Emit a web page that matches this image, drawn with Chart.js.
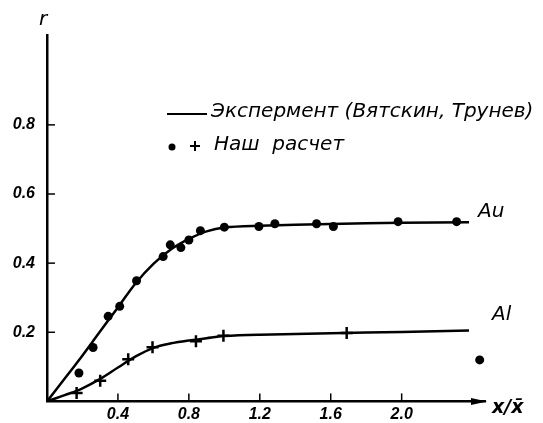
<!DOCTYPE html>
<html>
<head>
<meta charset="utf-8">
<script src="https://cdn.jsdelivr.net/npm/chart.js@4/dist/chart.umd.min.js"></script>
<style>
  html, body { margin: 0; padding: 0; background: #fff; }
  #chart { display: block; }
</style>
</head>
<body>
<canvas id="chart" width="543" height="423"></canvas>
<script>
// experiment curves (solid lines)
const curveX = [0, 0.1, 0.2, 0.3, 0.4, 0.5, 0.6, 0.7, 0.8, 0.9, 1.0, 1.2, 1.6, 2.0, 2.38];
const auCurve = [0, 0.066, 0.133, 0.203, 0.272, 0.342, 0.398, 0.44, 0.47, 0.492, 0.503, 0.508, 0.513, 0.517, 0.518];
const alCurve = [0, 0.018, 0.038, 0.065, 0.098, 0.13, 0.155, 0.168, 0.176, 0.183, 0.189, 0.193, 0.197, 0.201, 0.205];

// our calculation: dots (Au) and crosses (Al)
const auX = [0.18, 0.26, 0.345, 0.41, 0.505, 0.655, 0.695, 0.755, 0.80, 0.865, 1.00, 1.195, 1.285, 1.52, 1.615, 1.98, 2.31, 2.44];
const auY = [0.082, 0.156, 0.246, 0.275, 0.349, 0.419, 0.453, 0.445, 0.467, 0.494, 0.504, 0.506, 0.514, 0.514, 0.506, 0.52, 0.52, 0.12];
const alX = [0.167, 0.30, 0.458, 0.595, 0.84, 0.995, 1.69];
const alY = [0.024, 0.060, 0.122, 0.157, 0.174, 0.19, 0.198];

const xTicks = [0.4, 0.8, 1.2, 1.6, 2.0];
const yTicks = [0.2, 0.4, 0.6, 0.8];

const legendLine = "Экспермент (Вятскин, Трунев)";
const legendCalc = "Наш  расчет";
const yTitle = "r";
const xTitle = "x/x\u0304";

const toPoints = (xs, ys) => xs.map((x, i) => ({ x: x, y: ys[i] }));

const textFont = 'italic 20px "DejaVu Sans"';
const tickFont = { family: '"Liberation Sans"', size: 16, style: 'italic', weight: 'bold' };

// hand drawn bits: inward ticks, arrow, legend, labels
const decorations = {
    id: 'decorations',
    afterDraw(chart) {
        const ctx = chart.ctx;
        const xs = chart.scales.x, ys = chart.scales.y;
        const area = chart.chartArea;
        ctx.save();
        ctx.strokeStyle = '#000';
        ctx.fillStyle = '#000';
        ctx.lineWidth = 1.5;

        // tick marks pointing into the plot
        yTicks.forEach(v => {
            const py = ys.getPixelForValue(v);
            ctx.beginPath();
            ctx.moveTo(area.left, py);
            ctx.lineTo(area.left + 8, py);
            ctx.stroke();
        });
        xTicks.forEach(v => {
            const px = xs.getPixelForValue(v);
            ctx.beginPath();
            ctx.moveTo(px, area.bottom);
            ctx.lineTo(px, area.bottom - 8);
            ctx.stroke();
        });

        // arrow at the end of the x axis
        ctx.beginPath();
        ctx.moveTo(area.right + 2, area.bottom);
        ctx.lineTo(area.right - 14, area.bottom - 3.5);
        ctx.lineTo(area.right - 14, area.bottom + 3.5);
        ctx.closePath();
        ctx.fill();

        // axis titles
        ctx.font = 'italic 20px "DejaVu Sans"';
        ctx.textBaseline = 'middle';
        ctx.textAlign = 'left';
        ctx.fillText(yTitle, area.left - 8, 20);
        ctx.font = 'italic bold 19px "DejaVu Sans"';
        ctx.fillText(xTitle, 492, 408);

        // legend
        ctx.font = textFont;
        ctx.lineWidth = 2;
        ctx.beginPath();
        ctx.moveTo(167, 114);
        ctx.lineTo(207, 114);
        ctx.stroke();
        ctx.fillText(legendLine, 211, 112);
        ctx.beginPath();
        ctx.arc(172, 147, 3.5, 0, Math.PI * 2);
        ctx.fill();
        ctx.beginPath();
        ctx.moveTo(190, 146); ctx.lineTo(200, 146);
        ctx.moveTo(195, 141); ctx.lineTo(195, 151);
        ctx.stroke();
        ctx.fillText(legendCalc, 214, 145);

        // series names
        ctx.fillText('Au', 478, 212);
        ctx.fillText('Al', 492, 315);
        ctx.restore();
    }
};

new Chart(document.getElementById('chart'), {
    type: 'scatter',
    data: {
        datasets: [
            {
                type: 'line', data: toPoints(curveX, auCurve), borderColor: '#000', borderWidth: 2.5,
                pointRadius: 0, tension: 0.35, fill: false
            },
            {
                type: 'line', data: toPoints(curveX, alCurve), borderColor: '#000', borderWidth: 2.5,
                pointRadius: 0, tension: 0.35, fill: false
            },
            {
                data: toPoints(auX, auY), pointStyle: 'circle', pointRadius: 4.5,
                backgroundColor: '#000', borderColor: '#000', borderWidth: 0
            },
            {
                data: toPoints(alX, alY), pointStyle: 'cross', pointRadius: 6,
                borderColor: '#000', borderWidth: 2.5
            }
        ]
    },
    options: {
        responsive: false,
        animation: false,
        devicePixelRatio: 1,
        layout: { padding: { top: 35, right: 58, left: 0, bottom: 0 } },
        plugins: { legend: { display: false }, tooltip: { enabled: false } },
        scales: {
            x: {
                type: 'linear', min: 0, max: 2.47,
                afterBuildTicks: s => { s.ticks = xTicks.map(v => ({ value: v })); },
                afterFit: s => { s.height = 21; },
                grid: { drawOnChartArea: false, drawTicks: false },
                border: { display: true, color: '#000', width: 2.5 },
                ticks: { color: '#000', font: tickFont, padding: 4, callback: v => v.toFixed(1) }
            },
            y: {
                type: 'linear', min: 0, max: 1.06,
                afterBuildTicks: s => { s.ticks = yTicks.map(v => ({ value: v })); },
                afterFit: s => { s.width = 47; },
                grid: { drawOnChartArea: false, drawTicks: false },
                border: { display: true, color: '#000', width: 2.5 },
                ticks: { color: '#000', font: tickFont, padding: 12, callback: v => v.toFixed(1) }
            }
        }
    },
    plugins: [decorations]
});
</script>
</body>
</html>
